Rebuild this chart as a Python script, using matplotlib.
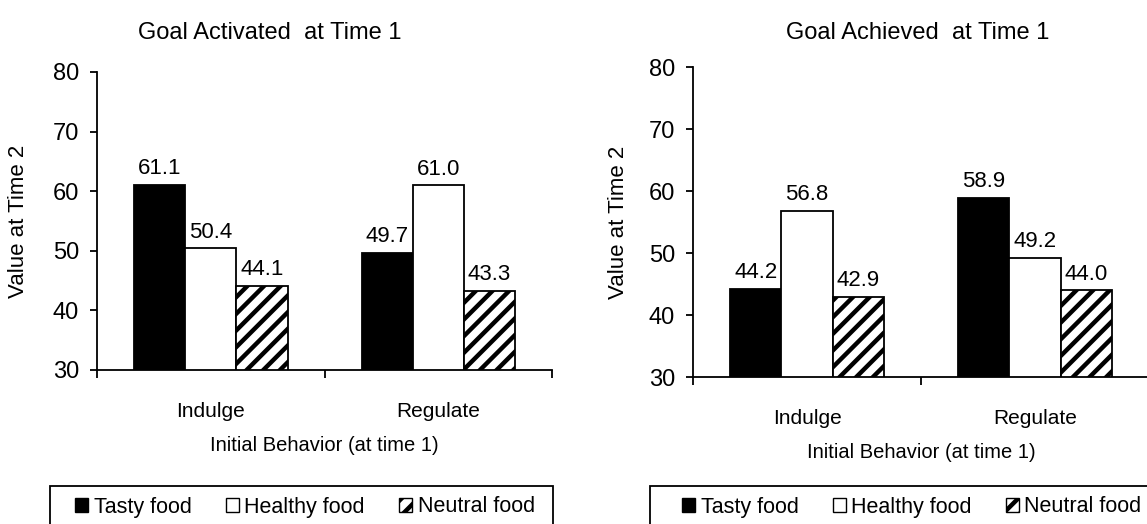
#/usr/bin/env python3

import numpy as np
import matplotlib
matplotlib.use('Agg')
import matplotlib.pyplot as plt
from matplotlib.patches import Patch, Rectangle

matplotlib.rcParams.update({'font.family': ['Liberation Sans', 'DejaVu Sans'],
                            'font.size': 15,
                            'hatch.linewidth': 3.2})

categories = ['Indulge', 'Regulate']
series = ['Tasty food', 'Healthy food', 'Neutral food']
titles = ['Goal Activated  at Time 1', 'Goal Achieved  at Time 1']

# values per panel, one list per series (Indulge, Regulate)
activated = {'Tasty food': [61.1, 49.7],
             'Healthy food': [50.4, 61.0],
             'Neutral food': [44.1, 43.3]}
achieved = {'Tasty food': [44.2, 58.9],
            'Healthy food': [56.8, 49.2],
            'Neutral food': [42.9, 44.0]}

yticks = [30, 40, 50, 60, 70, 80]

facecolors = ['black', 'white', 'white']
hatches = [None, None, '//']

fig = plt.figure(figsize=[11.47, 5.24], dpi=100)
ax_l = fig.add_axes([0.0846, 0.2939, 0.3967, 0.5687])
ax_r = fig.add_axes([0.6042, 0.2805, 0.3976, 0.5916])

width = 0.225
x = np.arange(len(categories)) + 0.5

panels = [(ax_l, activated, titles[0], 0.235, -0.15, 0.266),
          (ax_r, achieved, titles[1], 0.800, -0.14, 0.795)]

for ax, data, title, tx, ylx, lx in panels:
    for i, name in enumerate(series):
        bars = ax.bar(x + (i - 1) * width, data[name], width,
                      color=facecolors[i], edgecolor='black', linewidth=1.3,
                      hatch=hatches[i])
        for b, v in zip(bars, data[name]):
            ax.annotate('%.1f' % v, (b.get_x() + b.get_width() / 2, v),
                        xytext=(0, 4), textcoords='offset points',
                        ha='center', va='bottom', fontsize=16)
    ax.set_ylim(30, 80)
    ax.set_xlim(0, 2)
    ax.set_yticks(yticks)
    ax.set_yticklabels([str(t) for t in yticks], fontsize=17)
    ax.set_xticks(x)
    ax.set_xticklabels(categories, fontsize=15)
    ax.set_xticks([0, 1, 2], minor=True)
    ax.tick_params(axis='x', which='major', length=0, pad=23)
    ax.tick_params(axis='x', which='minor', length=6, width=1.3, direction='out')
    ax.tick_params(axis='y', length=5, width=1.3, direction='out', pad=8)
    for s in ['top', 'right']:
        ax.spines[s].set_visible(False)
    ax.spines['left'].set_linewidth(1.3)
    ax.spines['bottom'].set_linewidth(1.3)
    ax.set_ylabel('Value at Time 2', fontsize=16)
    ax.yaxis.set_label_coords(ylx, 0.5)
    ax.set_xlabel('Initial Behavior (at time 1)', fontsize=14.5, labelpad=11)
    fig.text(tx, 1 - 33 / 524, title, ha='center', va='center', fontsize=17)

    handles = [Patch(facecolor=facecolors[i], edgecolor='black', hatch=hatches[i],
                     linewidth=1) for i in range(3)]
    fig.legend(handles, series, loc='center', ncol=3, frameon=False,
               bbox_to_anchor=(lx, 1 - 507 / 524), handlelength=0.6, handleheight=0.6,
               handletextpad=0.25, columnspacing=1.6, fontsize=15.5)

# legend boxes, cut by the bottom edge as in the original
fig.patches.append(Rectangle((50 / 1147, -0.1), (553 - 50) / 1147, 0.1 + 38 / 524,
                             transform=fig.transFigure, fill=False,
                             edgecolor='black', linewidth=1.3))
fig.patches.append(Rectangle((650 / 1147, -0.1), 0.5, 0.1 + 38 / 524,
                             transform=fig.transFigure, fill=False,
                             edgecolor='black', linewidth=1.3))

plt.savefig('out.png', dpi=100)
